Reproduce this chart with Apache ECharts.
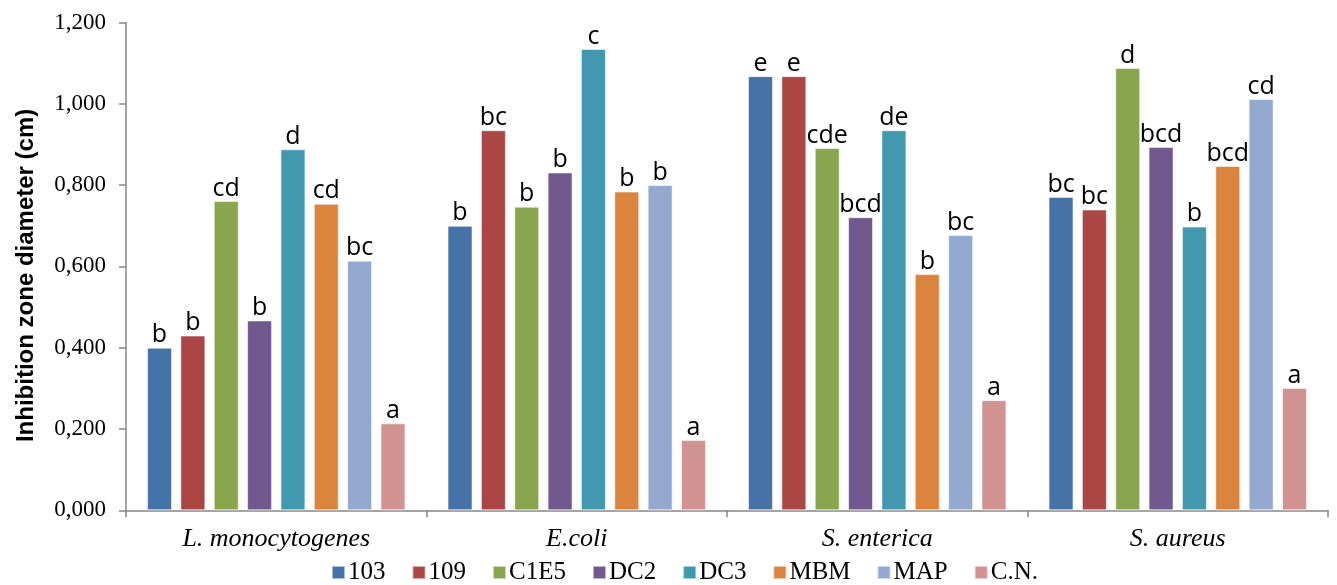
<!DOCTYPE html>
<html>
<head>
<meta charset="utf-8">
<script src="https://cdn.jsdelivr.net/npm/echarts@6/dist/echarts.min.js"></script>
<style>html,body{margin:0;padding:0;background:#fff;}#chart{width:1337px;height:585px;}</style>
</head>
<body>
<div id="chart"></div>
<script>
const categories = ['L. monocytogenes', 'E.coli', 'S. enterica', 'S. aureus'];
const seriesNames = ['103', '109', 'C1E5', 'DC2', 'DC3', 'MBM', 'MAP', 'C.N.'];
const v103  = [0.400, 0.700, 1.068, 0.771];
const v109  = [0.430, 0.935, 1.068, 0.740];
const vC1E5 = [0.761, 0.747, 0.891, 1.088];
const vDC2  = [0.467, 0.831, 0.721, 0.894];
const vDC3  = [0.888, 1.135, 0.935, 0.698];
const vMBM  = [0.754, 0.784, 0.581, 0.847];
const vMAP  = [0.614, 0.800, 0.677, 1.012];
const vCN   = [0.214, 0.173, 0.271, 0.301];
const l103  = ['b', 'b', 'e', 'bc'];
const l109  = ['b', 'bc', 'e', 'bc'];
const lC1E5 = ['cd', 'b', 'cde', 'd'];
const lDC2  = ['b', 'b', 'bcd', 'bcd'];
const lDC3  = ['d', 'c', 'de', 'b'];
const lMBM  = ['cd', 'b', 'b', 'bcd'];
const lMAP  = ['bc', 'b', 'bc', 'cd'];
const lCN   = ['a', 'a', 'a', 'a'];
const yTicks = [0, 0.2, 0.4, 0.6, 0.8, 1.0, 1.2];

const values = [v103, v109, vC1E5, vDC2, vDC3, vMBM, vMAP, vCN];
const letters = [l103, l109, lC1E5, lDC2, lDC3, lMBM, lMAP, lCN];
const colors = ['#4572A7', '#AA4643', '#89A54E', '#71588F', '#4198AF', '#DB843D', '#93A9CF', '#D19392'];

const chart = echarts.init(document.getElementById('chart'), null, {renderer: 'canvas'});
const series = seriesNames.map((name, i) => ({
  name: name,
  type: 'bar',
  data: values[i],
  barGap: '33.6%',
  barCategoryGap: '14%',
  itemStyle: {color: colors[i], borderColor: 'rgba(255,255,255,0.55)', borderWidth: 1},
  label: {
    show: true,
    position: 'top',
    distance: 0,
    fontFamily: 'Open Sans',
    fontSize: 25,
    color: '#000',
    formatter: p => letters[i][p.dataIndex]
  }
}));

chart.setOption({
  animation: false,
  color: colors,
  grid: {left: 126, right: 9, top: 22.5, bottom: 74.7, containLabel: false},
  legend: {
    data: seriesNames,
    left: 326,
    top: 555,
    itemWidth: 13,
    itemHeight: 13,
    itemGap: 26,
    icon: 'rect',
    textStyle: {fontFamily: 'Liberation Serif', fontSize: 25, color: '#000', padding: [0, 0, 0, -2]}
  },
  xAxis: {
    type: 'category',
    data: categories,
    axisLine: {lineStyle: {color: '#868686', width: 1.5}},
    axisTick: {show: true, length: 7, lineStyle: {color: '#868686', width: 1.5}},
    axisLabel: {fontFamily: 'Liberation Serif', fontStyle: 'italic', fontSize: 26, color: '#000', margin: 16}
  },
  yAxis: {
    type: 'value',
    min: 0,
    max: 1.2,
    interval: 0.2,
    name: 'Inhibition zone diameter (cm)',
    nameLocation: 'middle',
    nameGap: 88,
    nameTextStyle: {fontFamily: 'Liberation Sans', fontWeight: 'bold', fontSize: 24, color: '#000', padding: [0, 18, 0, 0]},
    axisLine: {show: true, lineStyle: {color: '#868686', width: 1.5}},
    axisTick: {show: true, length: 7, lineStyle: {color: '#868686', width: 1.5}},
    splitLine: {show: false},
    axisLabel: {
      fontFamily: 'Liberation Serif', fontSize: 23, color: '#000', margin: 20,
      formatter: v => yTicks.includes(Math.round(v * 10) / 10) ? v.toFixed(3).replace('.', ',') : ''
    }
  },
  series: series
});
</script>
</body>
</html>
